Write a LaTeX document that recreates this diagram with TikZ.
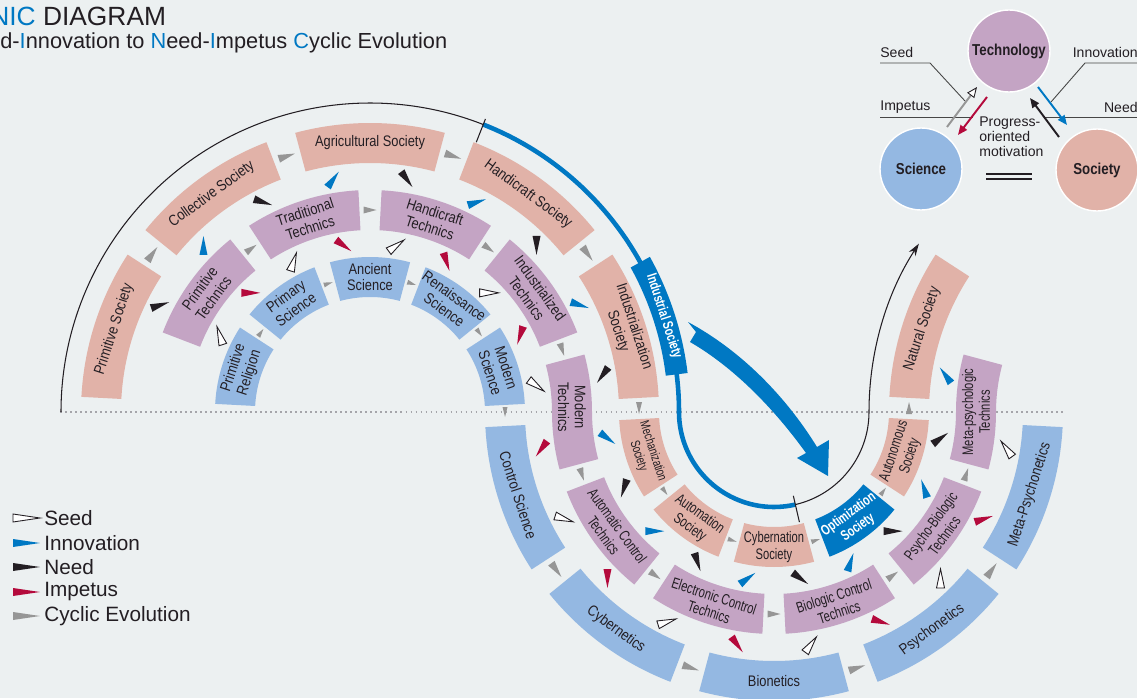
\documentclass[tikz,border=0pt]{standalone}
\usepackage{fontspec}
\setmainfont{Liberation Sans}
\newfontfamily\narrowfont[FakeStretch=0.84]{Liberation Sans}
\newfontfamily\narrowerfont[FakeStretch=0.73]{Liberation Sans}
\usetikzlibrary{positioning, arrows.meta, calc}

\definecolor{bgcol}{RGB}{236,240,241}
\definecolor{soc}{RGB}{225,178,168}
\definecolor{tec}{RGB}{196,164,196}
\definecolor{sci}{RGB}{148,184,226}
\definecolor{inno}{RGB}{0,120,195}
\definecolor{imp}{RGB}{180,10,60}
\definecolor{cyc}{RGB}{150,150,150}
\definecolor{ink}{RGB}{35,30,35}
\definecolor{dotcol}{RGB}{165,165,170}
\definecolor{leadcol}{RGB}{70,70,70}

\newcommand{\ringseg}[6]{%
  \fill[#6] ($(#1)+(#4:#2)$) arc[start angle=#4, end angle=#5, radius=#2]
    -- ($(#1)+(#5:#3)$) arc[start angle=#5, end angle=#4, radius=#3] -- cycle;}
\newcommand{\wedgetip}[5]{%
  \path[#5, shift={#1}, rotate=#2] (#3/2,0) -- (-#3/2,#4/2) -- (-#3/2,-#4/2) -- cycle;}

\begin{document}
\begin{tikzpicture}[x=0.02cm, y=0.02cm,
    society/.style={fill=soc},
    technics/.style={fill=tec},
    science/.style={fill=sci},
    lbl/.style={text=ink, align=center, inner sep=0pt, font=\narrowfont\fontsize{8.7}{9.6}\selectfont},
    lblx/.style={text=ink, align=center, inner sep=0pt, font=\narrowerfont\fontsize{8.7}{9.6}\selectfont},
    lblw/.style={text=white, align=center, inner sep=0pt, font=\narrowerfont\bfseries\fontsize{8.2}{9.2}\selectfont},
    seedtip/.style={fill=white, draw=ink, line width=0.5pt},
    innotip/.style={fill=inno},
    needtip/.style={fill=ink},
    imptip/.style={fill=imp},
    cyctip/.style={fill=cyc},
    lead/.style={draw=leadcol, line width=0.5pt},
    legtxt/.style={text=ink, anchor=west, inner sep=0pt, font=\fontsize{11.8}{13}\selectfont},
    smalltxt/.style={text=ink, inner sep=0pt, font=\fontsize{8}{8.6}\selectfont},
    bubble/.style={circle, draw=white, line width=0.8pt, minimum size=1.64cm, inner sep=0pt, text=ink, font=\narrowfont\bfseries\fontsize{9}{10}\selectfont},
]
\useasboundingbox (0,0) rectangle (1137,698);
\fill[bgcol] (0,0) rectangle (1137,698);
\clip (0,0) rectangle (1137,698);
\coordinate (C1) at (370,286);
\coordinate (C2) at (774,286);
\coordinate (C3) at (1178,286);

\draw[dotcol, line width=0.9pt, dash pattern=on 0.9pt off 1.95pt] (60,286) -- (1065,286);

\draw[ink, line width=0.6pt] ($(C1)+(180:309)$) arc[start angle=180, end angle=68.5, radius=309];
\draw[inno, line width=2.6pt] ($(C1)+(68.5:309)$) arc[start angle=68.5, end angle=0, radius=309] arc[start angle=180, end angle=283, radius=95];
\draw[ink, line width=0.6pt, -{Stealth[length=7pt, width=4.5pt]}] ($(C2)+(283:95)$) arc[start angle=283, end angle=360, radius=95] arc[start angle=180, end angle=147, radius=309];
\draw[ink, line width=0.6pt] ($(C1)+(68.5:290)$) -- ($(C1)+(68.5:315)$);
\draw[ink, line width=0.6pt] ($(C2)+(283:86)$) -- ($(C2)+(283:113)$);

\ringseg{C1}{249}{289}{147}{177}{society}
\node[lbl, rotate=72] (primsoc) at ($(C1)+(162:269)$) {Primitive Society};
\ringseg{C1}{249}{289}{111}{141}{society}
\node[lbl, rotate=36] (collsoc) at ($(C1)+(126:269)$) {Collective Society};
\ringseg{C1}{249}{289}{75}{105}{society}
\node[lbl] (agrisoc) at ($(C1)+(90:269)$) {Agricultural Society};
\ringseg{C1}{249}{289}{39}{69}{society}
\node[lbl, rotate=-36] (handsoc) at ($(C1)+(54:269)$) {Handicraft Society};
\ringseg{C1}{249}{289}{3}{33}{society}
\node[lbl, rotate=-72] (indusoc) at ($(C1)+(18:269)$) {Industrialization\\Society};

\ringseg{C1}{182}{222}{129}{159}{technics}
\node[lbl, rotate=54] (primtec) at ($(C1)+(144:202)$) {Primitive\\Technics};
\ringseg{C1}{182}{222}{93}{123}{technics}
\node[lbl, rotate=18] (tradtec) at ($(C1)+(108:202)$) {Traditional\\Technics};
\ringseg{C1}{182}{222}{57}{87}{technics}
\node[lbl, rotate=-18] (handtec) at ($(C1)+(72:202)$) {Handicraft\\Technics};
\ringseg{C1}{182}{222}{21}{51}{technics}
\node[lbl, rotate=-54] (indutec) at ($(C1)+(36:202)$) {Industrialized\\Technics};
\fill[technics] ($(C1)+(15:222)$) arc[start angle=15, end angle=0, radius=222]
  arc[start angle=180, end angle=195, radius=182] -- ($(C2)+(195:222)$)
  arc[start angle=195, end angle=180, radius=222] arc[start angle=0, end angle=15, radius=182] -- cycle;
\node[lbl, rotate=-90] (modtec) at (572,291) {Modern\\Technics};

\ringseg{C1}{115}{155}{147}{177}{science}
\node[lbl, rotate=72] (primrel) at ($(C1)+(162:135)$) {Primitive\\Religion};
\ringseg{C1}{115}{155}{111}{141}{science}
\node[lbl, rotate=36] (primsci) at ($(C1)+(126:135)$) {Primary\\Science};
\ringseg{C1}{115}{155}{75}{105}{science}
\node[lbl] (ancsci) at ($(C1)+(90:135)$) {Ancient\\Science};
\ringseg{C1}{115}{155}{39}{69}{science}
\node[lbl, rotate=-36] (rensci) at ($(C1)+(54:135)$) {Renaissance\\Science};
\ringseg{C1}{115}{155}{3}{33}{science}
\node[lbl, rotate=-72] (modsci) at ($(C1)+(18:135)$) {Modern\\Science};

\ringseg{C2}{249}{289}{183}{213}{science}
\node[lbl, rotate=-72] (ctrlsci) at ($(C2)+(198:269)$) {Control Science};
\ringseg{C2}{249}{289}{219}{249}{science}
\node[lbl, rotate=-36] (cybsci) at ($(C2)+(234:269)$) {Cybernetics};
\ringseg{C2}{249}{289}{255}{285}{science}
\node[lbl] (biosci) at ($(C2)+(270:269)$) {Bionetics};
\ringseg{C2}{249}{289}{291}{321}{science}
\node[lbl, rotate=36] (psysci) at ($(C2)+(306:269)$) {Psychonetics};
\ringseg{C2}{249}{289}{327}{357}{science}
\node[lbl, rotate=72] (metasci) at ($(C2)+(342:269)$) {Meta-Psychonetics};

\ringseg{C2}{182}{222}{201}{231}{technics}
\node[lblx, rotate=-54] (autotec) at ($(C2)+(216:202)$) {Automatic Control\\Technics};
\ringseg{C2}{182}{222}{237}{267}{technics}
\node[lblx, rotate=-18] (electec) at ($(C2)+(252:202)$) {Electronic Control\\Technics};
\ringseg{C2}{182}{222}{273}{303}{technics}
\node[lblx, rotate=18] (biotec) at ($(C2)+(288:202)$) {Biologic Control\\Technics};
\ringseg{C2}{182}{222}{309}{339}{technics}
\node[lblx, rotate=54] (psytec) at ($(C2)+(324:202)$) {Psycho-Biologic\\Technics};
\fill[technics] ($(C2)+(345:182)$) arc[start angle=345, end angle=360, radius=182]
  arc[start angle=180, end angle=165, radius=222] -- ($(C3)+(165:182)$)
  arc[start angle=165, end angle=180, radius=182] arc[start angle=360, end angle=345, radius=222] -- cycle;
\node[lblx, rotate=90] (metatec) at (976,286) {Meta-psychologic\\Technics};

\ringseg{C2}{115}{155}{183}{213}{society}
\node[lblx, rotate=-72, font=\narrowerfont\fontsize{7.5}{8.6}\selectfont] (mechsoc) at ($(C2)+(198:135)$) {Mechanization\\Society};
\ringseg{C2}{115}{155}{219}{249}{society}
\node[lblx, rotate=-36] (autosoc) at ($(C2)+(234:135)$) {Automation\\Society};
\ringseg{C2}{115}{155}{255}{285}{society}
\node[lblx] (cybsoc) at ($(C2)+(270:135)$) {Cybernation\\Society};
\ringseg{C2}{115}{155}{291}{321}{fill=inno}
\node[lblw, rotate=36] (optsoc) at ($(C2)+(306:135)$) {Optimization\\Society};
\ringseg{C2}{115}{155}{327}{357}{society}
\node[lblx, rotate=72] (autnsoc) at ($(C2)+(342:135)$) {Autonomous\\Society};

\ringseg{C3}{249}{289}{147}{177}{society}
\node[lbl, rotate=72] (natsoc) at ($(C3)+(162:269)$) {Natural Society};

\ringseg{C1}{298}{320}{7}{29}{fill=inno}
\node[lblw, rotate=-72] (indsoc) at ($(C1)+(18:309)$) {Industrial Society};

\foreach \a in {144,108,72,36} {
  \wedgetip{($(C1)+(\a:135)$)}{\a-90}{9}{5}{cyctip}
  \wedgetip{($(C1)+(\a:269)$)}{\a-90}{17}{8}{cyctip}
}
\foreach \a in {126,90,54,18} {
  \wedgetip{($(C1)+(\a:202)$)}{\a-90}{13}{7}{cyctip}
}
\foreach \a in {216,252,288,324} {
  \wedgetip{($(C2)+(\a:135)$)}{\a+90}{9}{5}{cyctip}
  \wedgetip{($(C2)+(\a:269)$)}{\a+90}{17}{8}{cyctip}
}
\foreach \a in {198,234,270,306,342} {
  \wedgetip{($(C2)+(\a:202)$)}{\a+90}{13}{7}{cyctip}
}
\wedgetip{(505,286)}{-90}{10}{5}{cyctip}
\wedgetip{(639,290)}{-90}{12}{6}{cyctip}
\wedgetip{(909,290)}{90}{12}{6}{cyctip}

\foreach \a in {153,117,81,45,9} {
  \wedgetip{($(C1)+(\a:235.5)$)}{\a-135}{19}{8}{needtip}
  \wedgetip{($(C1)+(\a:168.5)$)}{\a-45}{19}{8}{seedtip}
}
\foreach \a in {135,99,63,27} {
  \wedgetip{($(C1)+(\a:235.5)$)}{\a-45}{19}{8}{innotip}
  \wedgetip{($(C1)+(\a:168.5)$)}{\a-135}{19}{8}{imptip}
}
\foreach \a in {189,225,261,297,333} {
  \wedgetip{($(C2)+(\a:168.5)$)}{\a+135}{19}{8}{innotip}
  \wedgetip{($(C2)+(\a:235.5)$)}{\a+45}{19}{8}{imptip}
}
\foreach \a in {207,243,279,315,351} {
  \wedgetip{($(C2)+(\a:168.5)$)}{\a+45}{19}{8}{needtip}
  \wedgetip{($(C2)+(\a:235.5)$)}{\a+135}{19}{8}{seedtip}
}
\wedgetip{($(C3)+(171:235.5)$)}{126}{19}{8}{innotip}

\fill[inno] (688,376) -- (696,366) -- (690,356) .. controls (735,330) and (775,288) .. (806,245)
  -- (797,240) -- (828,222) -- (829,258) -- (817,251) .. controls (785,303) and (740,348) .. (688,376) -- cycle;

\node[anchor=base west, inner sep=0pt, text=ink, font=\fontsize{15}{18}\selectfont] (title) at (-10,672) {\textcolor{inno}{NIC} DIAGRAM};
\node[anchor=base west, inner sep=0pt, text=ink, font=\fontsize{12.4}{14}\selectfont] (subtitle) at (0,649) {d-\textcolor{inno}{I}nnovation to \textcolor{inno}{N}eed-\textcolor{inno}{I}mpetus \textcolor{inno}{C}yclic Evolution};

\wedgetip{(26.5,180)}{0}{27}{8}{seedtip}
\node[legtxt] (lgseed) at (44,180) {Seed};
\wedgetip{(26.5,155)}{0}{27}{8}{innotip}
\node[legtxt] (lginno) at (44,155) {Innovation};
\wedgetip{(26.5,131)}{0}{27}{8}{needtip}
\node[legtxt] (lgneed) at (44,131) {Need};
\wedgetip{(26.5,106)}{0}{27}{8}{imptip}
\node[legtxt] (lgimp) at (44,106) {Impetus};
\wedgetip{(26.5,82)}{0}{27}{8}{cyctip}
\node[legtxt] (lgcyc) at (44,82) {Cyclic Evolution};

\node[bubble, fill=tec] (tech) at (1009,647) {Technology};
\node[bubble, fill=sci] (scie) at (921,529) {Science};
\node[bubble, fill=soc] (soci) at (1097,528) {Society};
\node[smalltxt, anchor=west] (seedlb) at (880,646) {Seed};
\node[smalltxt, anchor=west] (implb) at (880,591) {Impetus};
\node[smalltxt, anchor=east] (innolb) at (1138,646) {Innovation};
\node[smalltxt, anchor=east] (needlb) at (1138,591) {Need};
\node[smalltxt, anchor=west, align=left] (motive) at (979,561) {Progress-\\oriented\\motivation};
\draw[lead] (880,635) -- (930,635) -- (965,597);
\draw[lead] (1137,635) -- (1085,635) -- (1051,596);
\draw[lead] (880,581) -- (973,581);
\draw[lead] (1137,581) -- (1045,581);
\coordinate (seedA) at (947,571);
\coordinate (seedB) at (977,611);
\coordinate (impA) at (987,601);
\coordinate (impB) at (958,563);
\coordinate (innoA) at (1038,611);
\coordinate (innoB) at (1067,573);
\coordinate (needA) at (1059,561);
\coordinate (needB) at (1030,600);
\draw[cyc, line width=1.1pt, -{Triangle[length=6pt, width=5pt, fill=white, color=ink, line width=0.5pt]}] (seedA) -- (seedB);
\draw[imp, line width=1.1pt, -{Triangle[length=5.5pt, width=4.5pt]}] (impA) -- (impB);
\draw[inno, line width=1.1pt, -{Triangle[length=5.5pt, width=4.5pt]}] (innoA) -- (innoB);
\draw[ink, line width=1.1pt, -{Triangle[length=5.5pt, width=4.5pt]}] (needA) -- (needB);
\draw[ink, line width=0.6pt] (986,524) -- (1032,524);
\draw[ink, line width=0.6pt] (986,519) -- (1032,519);
\end{tikzpicture}
\end{document}
